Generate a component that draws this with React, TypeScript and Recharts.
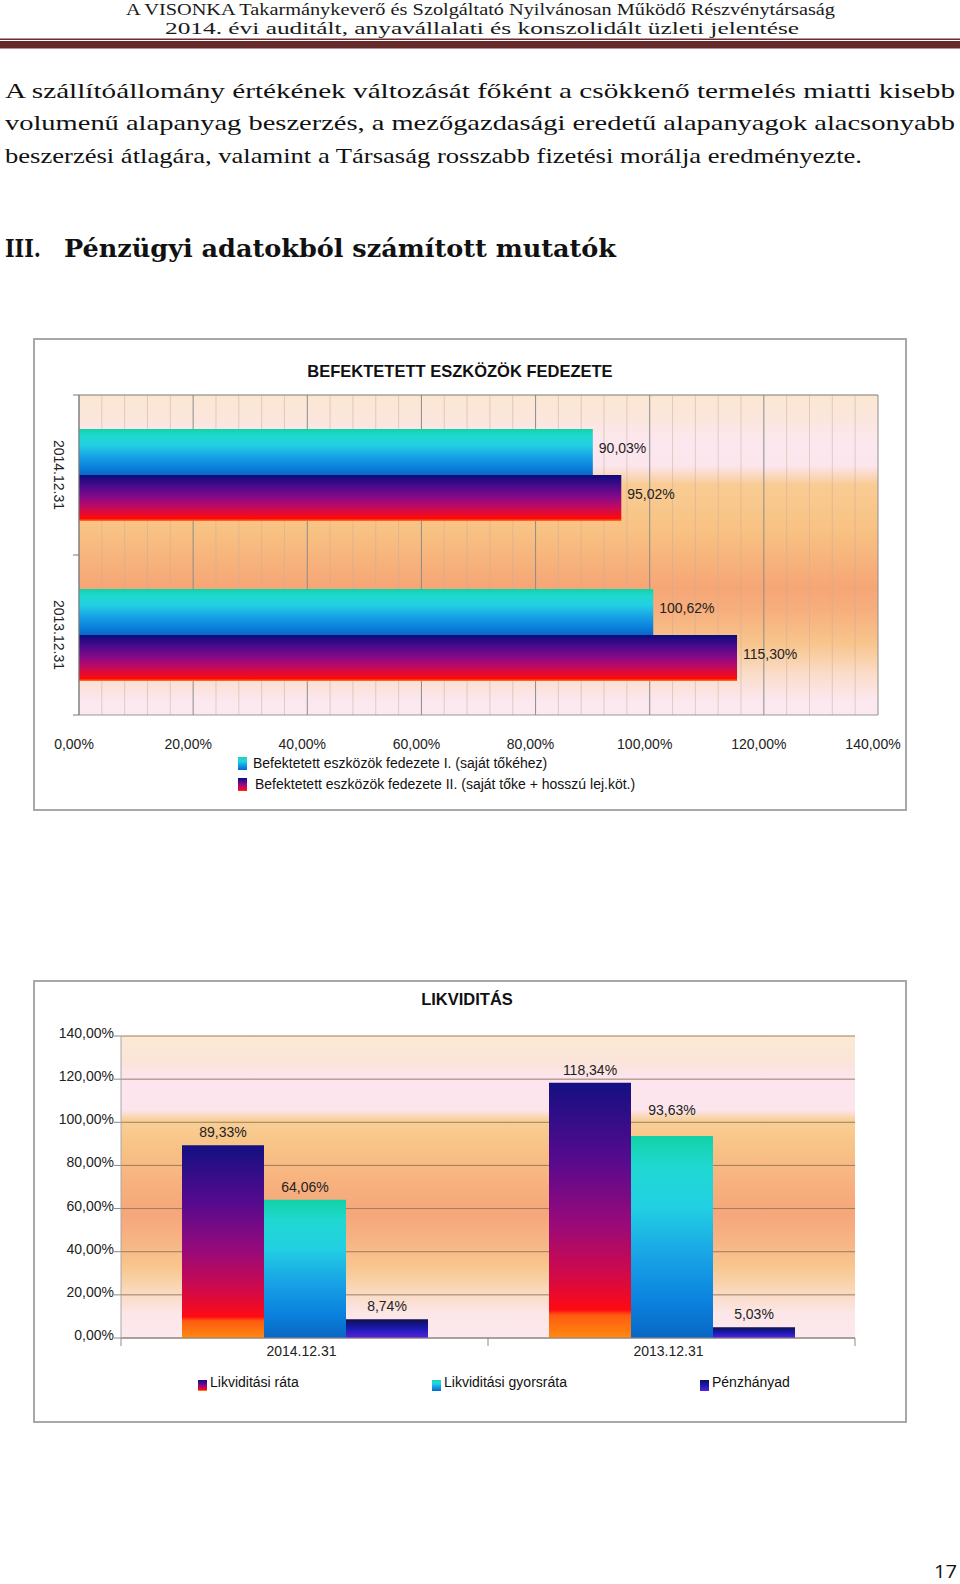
import React from 'react'
import { BarChart, Bar, XAxis, YAxis, CartesianGrid, LabelList, ReferenceLine } from 'recharts'

const DATES = ['2014.12.31', '2013.12.31']
const FEDEZET_I = [90.03, 100.62]
const FEDEZET_II = [95.02, 115.3]
const LIKV_RATA = [89.33, 118.34]
const LIKV_GYORS = [64.06, 93.63]
const PENZHANYAD = [8.74, 5.03]
const PCT_TICKS = [0, 20, 40, 60, 80, 100, 120, 140]
const MINOR_TICKS = [4, 8, 12, 16, 24, 28, 32, 36, 44, 48, 52, 56, 64, 68, 72, 76, 84, 88, 92, 96, 104, 108, 112, 116, 124, 128, 132, 136]
const FEDEZET_NAMES = [
    'Befektetett eszközök fedezete I. (saját tőkéhez)',
    'Befektetett eszközök fedezete II. (saját tőke + hosszú lej.köt.)',
]
const LIKV_NAMES = ['Likviditási ráta', 'Likviditási gyorsráta', 'Pénzhányad']

const fedezetData = DATES.map((d, i) => ({ date: d, f1: FEDEZET_I[i], f2: FEDEZET_II[i] }))
const likvData = DATES.map((d, i) => ({ date: d, rata: LIKV_RATA[i], gyors: LIKV_GYORS[i], penz: PENZHANYAD[i] }))

const SANS = '"Liberation Sans", Arial, sans-serif'
const SERIF = '"Liberation Serif", "Times New Roman", serif'
const pct = (v: number) => v.toFixed(2).replace('.', ',') + '%'

const BAND1 = 160 // plot height / 2 categories (chart 1)
const BAND2 = 367 // plot width / 2 categories (chart 2)

const Gradients = () => (
    <defs>
        <linearGradient id="gCyan" x1="0" y1="0" x2="0" y2="1">
            <stop offset="0" stopColor="#12d2a6" />
            <stop offset="0.15" stopColor="#20d8d2" />
            <stop offset="0.35" stopColor="#22d0e2" />
            <stop offset="0.6" stopColor="#18a2e6" />
            <stop offset="0.82" stopColor="#0a82de" />
            <stop offset="1" stopColor="#0a66c4" />
        </linearGradient>
        <linearGradient id="gPurp" x1="0" y1="0" x2="0" y2="1">
            <stop offset="0" stopColor="#0c0a7c" />
            <stop offset="0.25" stopColor="#4c0a8c" />
            <stop offset="0.5" stopColor="#8c0a86" />
            <stop offset="0.72" stopColor="#c80a5a" />
            <stop offset="0.9" stopColor="#f40a18" />
            <stop offset="0.95" stopColor="#ff0a0a" />
            <stop offset="1" stopColor="#ff7a1a" />
        </linearGradient>
        <linearGradient id="gRata" x1="0" y1="0" x2="0" y2="1">
            <stop offset="0" stopColor="#141082" />
            <stop offset="0.3" stopColor="#560a8e" />
            <stop offset="0.55" stopColor="#980a7a" />
            <stop offset="0.75" stopColor="#d00a4a" />
            <stop offset="0.89" stopColor="#ff0a12" />
            <stop offset="0.91" stopColor="#ff5a10" />
            <stop offset="1" stopColor="#ff8a10" />
        </linearGradient>
        <linearGradient id="gPenz" x1="0" y1="0" x2="0" y2="1">
            <stop offset="0" stopColor="#10104c" />
            <stop offset="0.5" stopColor="#1a1ab4" />
            <stop offset="1" stopColor="#5a22d8" />
        </linearGradient>
        <linearGradient id="bg1" x1="0" y1="0" x2="0" y2="1">
            <stop offset="0" stopColor="#fbe7d0" />
            <stop offset="0.08" stopColor="#fbe6de" />
            <stop offset="0.14" stopColor="#fce7ef" />
            <stop offset="0.22" stopColor="#fce6ee" />
            <stop offset="0.28" stopColor="#f9cc94" />
            <stop offset="0.42" stopColor="#f8c283" />
            <stop offset="0.6" stopColor="#f6a676" />
            <stop offset="0.67" stopColor="#f7ae7c" />
            <stop offset="0.78" stopColor="#f8c68e" />
            <stop offset="0.87" stopColor="#fadcc8" />
            <stop offset="0.95" stopColor="#fce7ee" />
            <stop offset="1" stopColor="#fce8f0" />
        </linearGradient>
        <linearGradient id="bg2" x1="0" y1="0" x2="0" y2="1">
            <stop offset="0" stopColor="#fbe9d3" />
            <stop offset="0.1" stopColor="#fbe4dc" />
            <stop offset="0.14" stopColor="#fce5ee" />
            <stop offset="0.245" stopColor="#fce5ec" />
            <stop offset="0.28" stopColor="#f8cf96" />
            <stop offset="0.36" stopColor="#f8c487" />
            <stop offset="0.48" stopColor="#f7b27f" />
            <stop offset="0.59" stopColor="#f6a67a" />
            <stop offset="0.69" stopColor="#f7b686" />
            <stop offset="0.77" stopColor="#f8c890" />
            <stop offset="0.86" stopColor="#fadcc6" />
            <stop offset="0.92" stopColor="#fce6e8" />
            <stop offset="1" stopColor="#fce8ee" />
        </linearGradient>
    </defs>
)

const labelBox = (props: any) => props.viewBox ?? props

const FedezetLabel = (props: any) => {
    const { x, y, width, height } = labelBox(props)
    return (
        <text x={x + width + 6} y={y + height / 2 + 1} fontSize={14} fill="#222" fontFamily={SANS}>
            {pct(Number(props.value))}
        </text>
    )
}

const makeLikvLabel = (key: string) => (props: any) => {
    const { x, y, width } = labelBox(props)
    const lift = key === 'gyors' && props.index === 1 ? 13 : 0
    return (
        <text x={x + width / 2} y={y - 8 - lift} textAnchor="middle" fontSize={14} fill="#222" fontFamily={SANS}>
            {pct(Number(props.value))}
        </text>
    )
}

const PctTickBottom = (props: any) => {
    const { x, y, payload } = props
    return (
        <text x={x - 5} y={y + 34} textAnchor="middle" fontSize={14} fill="#222" fontFamily={SANS}>
            {pct(payload.value)}
        </text>
    )
}

const DateTickLeft = (props: any) => {
    const { x, y, payload, index, visibleTicksCount } = props
    const h = BAND1 / 2
    const cx = x - 20
    return (
        <g>
            <line x1={x - 6} x2={x} y1={y - h} y2={y - h} stroke="#7a7a7a" />
            {index === visibleTicksCount - 1 && <line x1={x - 6} x2={x} y1={y + h} y2={y + h} stroke="#7a7a7a" />}
            <text x={cx} y={y} transform={`rotate(90 ${cx} ${y})`} textAnchor="middle" dominantBaseline="central"
                fontSize={14} fill="#222" fontFamily={SANS}>
                {payload.value}
            </text>
        </g>
    )
}

const PctTickLeft = (props: any) => {
    const { x, y, payload } = props
    return (
        <text x={x} y={y + 2} textAnchor="end" fontSize={14} fill="#222" fontFamily={SANS}>
            {pct(payload.value)}
        </text>
    )
}

const DateTickBottom = (props: any) => {
    const { x, y, payload, index, visibleTicksCount } = props
    const h = BAND2 / 2
    return (
        <g>
            <line x1={x - h} x2={x - h} y1={y} y2={y + 8} stroke="#8a8a8a" />
            {index === visibleTicksCount - 1 && <line x1={x + h} x2={x + h} y1={y} y2={y + 8} stroke="#8a8a8a" />}
            <text x={x - 3} y={y + 18} textAnchor="middle" fontSize={14} fill="#222" fontFamily={SANS}>
                {payload.value}
            </text>
        </g>
    )
}

const FedezetChart = () => (
    <div style={{ position: 'absolute', left: 0, top: 330 }}>
        <BarChart width={960} height={490} data={fedezetData} layout="vertical"
            margin={{ top: 64, right: 82, bottom: 65, left: 49 }} barCategoryGap={34} barGap={0}>
            <Gradients />
            <CartesianGrid horizontal={false} vertical={false} stroke="none" fill="url(#bg1)" fillOpacity={1} />
            {MINOR_TICKS.map(t => (
                <ReferenceLine key={'m' + t} xAxisId="bottom" x={t} stroke="#c9ae98" strokeOpacity={0.5} zIndex={-90} />
            ))}
            {PCT_TICKS.map(t => (
                <ReferenceLine key={'M' + t} xAxisId="bottom" x={t} stroke="#8c8c8c" zIndex={-80} />
            ))}
            <XAxis xAxisId="top" orientation="top" type="number" domain={[0, 140]} ticks={PCT_TICKS} interval={0}
                height={1} tickSize={7} tick={() => <g />} tickLine={{ stroke: '#7a7a7a' }} axisLine={{ stroke: '#7a7a7a' }} />
            <XAxis xAxisId="bottom" type="number" domain={[0, 140]} ticks={PCT_TICKS} interval={0}
                height={40} tickSize={0} tickMargin={0} tickLine={false} axisLine={{ stroke: '#9a9a9a' }}
                tick={<PctTickBottom />} />
            <YAxis type="category" dataKey="date" width={30} tickSize={0} tickMargin={0} tickLine={false}
                axisLine={{ stroke: '#7a7a7a' }} tick={<DateTickLeft />} />
            <Bar xAxisId="bottom" dataKey="f1" name={FEDEZET_NAMES[0]} fill="url(#gCyan)" isAnimationActive={false}>
                <LabelList dataKey="f1" content={FedezetLabel} />
            </Bar>
            <Bar xAxisId="bottom" dataKey="f2" name={FEDEZET_NAMES[1]} fill="url(#gPurp)" isAnimationActive={false}>
                <LabelList dataKey="f2" content={FedezetLabel} />
            </Bar>
        </BarChart>
    </div>
)

const LikvChart = () => (
    <div style={{ position: 'absolute', left: 0, top: 970 }}>
        <BarChart width={960} height={460} data={likvData}
            margin={{ top: 66, right: 105, bottom: 62, left: 61 }} barCategoryGap={61} barGap={0}>
            <Gradients />
            <CartesianGrid vertical={false} stroke="#9c7c5c" fill="url(#bg2)" fillOpacity={1} />
            <XAxis dataKey="date" height={30} tickSize={0} tickMargin={0} tickLine={false}
                axisLine={{ stroke: '#8a8a8a' }} tick={<DateTickBottom />} />
            <YAxis type="number" domain={[0, 140]} ticks={PCT_TICKS} interval={0} width={60}
                tickSize={7} tickMargin={0} tickLine={{ stroke: '#8a8a8a' }} axisLine={{ stroke: '#a8a8a8' }}
                tick={<PctTickLeft />} />
            <YAxis yAxisId="r" orientation="right" width={0} tick={false} tickLine={false}
                axisLine={{ stroke: '#a8a8a8' }} />
            <Bar dataKey="rata" name={LIKV_NAMES[0]} fill="url(#gRata)" isAnimationActive={false}>
                <LabelList dataKey="rata" content={makeLikvLabel('rata')} />
            </Bar>
            <Bar dataKey="gyors" name={LIKV_NAMES[1]} fill="url(#gCyan)" isAnimationActive={false}>
                <LabelList dataKey="gyors" content={makeLikvLabel('gyors')} />
            </Bar>
            <Bar dataKey="penz" name={LIKV_NAMES[2]} fill="url(#gPenz)" isAnimationActive={false}>
                <LabelList dataKey="penz" content={makeLikvLabel('penz')} />
            </Bar>
        </BarChart>
    </div>
)

const boxStyle = (top: number, height: number): React.CSSProperties => ({
    position: 'absolute', left: 33, top, width: 874, height, boxSizing: 'border-box',
    border: '2px solid #a8a8a8', background: '#fff',
})

export default function App() {
    const fedezetGrads = ['gCyan', 'gPurp']
    const likvGrads = ['gRata', 'gCyan', 'gPenz']
    const likvX = [198, 432, 700]
    return (
        <div style={{ position: 'relative', width: 960, height: 1584, background: '#fff', overflow: 'hidden' }}>
            <style>{'body{margin:0}'}</style>
            <div style={boxStyle(338, 473)} />
            <div style={boxStyle(980, 443)} />
            <svg width={960} height={1584} style={{ position: 'absolute', left: 0, top: 0 }}>
                <Gradients />
                {/* page header */}
                <text x={126} y={15} fontSize={16.5} fontFamily={SERIF} fill="#1a1a1a" textLength={709}
                    lengthAdjust="spacingAndGlyphs">A VISONKA Takarmánykeverő és Szolgáltató Nyilvánosan Működő Részvénytársaság</text>
                <text x={165} y={34} fontSize={16.5} fontFamily={SERIF} fill="#1a1a1a" textLength={634}
                    lengthAdjust="spacingAndGlyphs">2014. évi auditált, anyavállalati és konszolidált üzleti jelentése</text>
                <rect x={0} y={38.5} width={960} height={1.5} fill="#6a2c2c" />
                <rect x={0} y={41} width={960} height={7.5} fill="#662a2a" />
                {/* paragraph */}
                <text x={5} y={97.5} fontSize={21} fontFamily={SERIF} fill="#111" textLength={950}
                    lengthAdjust="spacingAndGlyphs">A szállítóállomány értékének változását főként a csökkenő termelés miatti kisebb</text>
                <text x={5} y={130} fontSize={21} fontFamily={SERIF} fill="#111" textLength={950}
                    lengthAdjust="spacingAndGlyphs">volumenű alapanyag beszerzés, a mezőgazdasági eredetű alapanyagok alacsonyabb</text>
                <text x={5} y={162.5} fontSize={21} fontFamily={SERIF} fill="#111" textLength={857}
                    lengthAdjust="spacingAndGlyphs">beszerzési átlagára, valamint a Társaság rosszabb fizetési morálja eredményezte.</text>
                {/* section heading */}
                <text x={5} y={257} fontSize={23.5} fontWeight="bold" fontFamily='"DejaVu Serif", serif' fill="#111"
                    textLength={36} lengthAdjust="spacingAndGlyphs">III.</text>
                <text x={64} y={257} fontSize={23.5} fontWeight="bold" fontFamily='"DejaVu Serif", serif' fill="#111"
                    textLength={552} lengthAdjust="spacingAndGlyphs">Pénzügyi adatokból számított mutatók</text>
                {/* chart titles */}
                <text x={460} y={377} textAnchor="middle" fontSize={16.5} fontWeight="bold" fontFamily={SANS} fill="#111">
                    BEFEKTETETT ESZKÖZÖK FEDEZETE
                </text>
                <text x={467} y={1005} textAnchor="middle" fontSize={16.5} fontWeight="bold" fontFamily={SANS} fill="#111">
                    LIKVIDITÁS
                </text>
                {/* legends */}
                {FEDEZET_NAMES.map((n, i) => (
                    <g key={n}>
                        <rect x={238} y={757 + i * 21} width={9} height={13} fill={`url(#${fedezetGrads[i]})`} />
                        <text x={253 + i * 2} y={768 + i * 21} fontSize={14} fontFamily={SANS} fill="#111">{n}</text>
                    </g>
                ))}
                {LIKV_NAMES.map((n, i) => (
                    <g key={n}>
                        <rect x={likvX[i]} y={1380} width={9} height={11} fill={`url(#${likvGrads[i]})`} />
                        <text x={likvX[i] + 12} y={1387} fontSize={14} fontFamily={SANS} fill="#111">{n}</text>
                    </g>
                ))}
                {/* page number */}
                <text x={934} y={1578} fontSize={19} fontFamily='"Open Sans", sans-serif' fill="#111" textLength={23}
                    lengthAdjust="spacingAndGlyphs">17</text>
            </svg>
            <FedezetChart />
            <LikvChart />
        </div>
    )
}
